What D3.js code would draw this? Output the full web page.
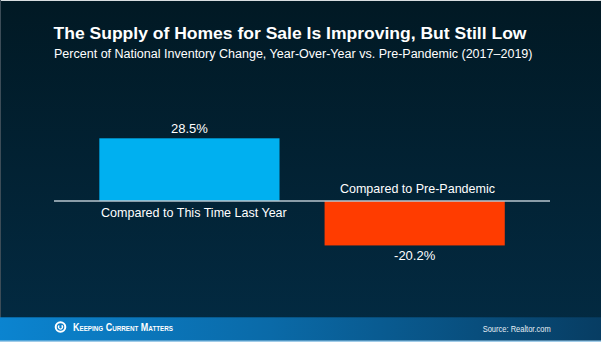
<!DOCTYPE html>
<html><head><meta charset="utf-8">
<script src="https://cdn.jsdelivr.net/npm/d3@7"></script>
<style>html,body{margin:0;padding:0;background:#021a27;}svg{display:block;}</style>
</head><body>
<script>
const categories = ["Compared to This Time Last Year", "Compared to Pre-Pandemic"];
const values = [28.5, -20.2];
const valueLabels = ["28.5%", "-20.2%"];
const barColors = ["#00b0f0", "#ff3c00"];
const title = "The Supply of Homes for Sale Is Improving, But Still Low";
const subtitle = "Percent of National Inventory Change, Year-Over-Year vs. Pre-Pandemic (2017\u20132019)";
const source = "Source: Realtor.com";
const brand = "Keeping Current Matters";

const W = 601, H = 342;
const svg = d3.select("body").append("svg").attr("width", W).attr("height", H);
const defs = svg.append("defs");
const bg = defs.append("linearGradient").attr("id","bg").attr("x1",0).attr("y1",0).attr("x2",0).attr("y2",1);
bg.append("stop").attr("offset","0%").attr("stop-color","#011924");
bg.append("stop").attr("offset","100%").attr("stop-color","#032b43");
const ft = defs.append("linearGradient").attr("id","ft").attr("x1",0).attr("y1",0).attr("x2",1).attr("y2",0);
ft.append("stop").attr("offset","0%").attr("stop-color","#0b84d0");
ft.append("stop").attr("offset","45%").attr("stop-color","#0a6aa8");
ft.append("stop").attr("offset","100%").attr("stop-color","#073d63");

svg.append("rect").attr("width",W).attr("height",H).attr("fill","url(#bg)");
// light borders
svg.append("rect").attr("x",0).attr("y",0).attr("width",W).attr("height",1).attr("fill","#d8dde0");
svg.append("rect").attr("x",0).attr("y",0).attr("width",1).attr("height",H).attr("fill","#3c4c57");
// footer
svg.append("rect").attr("x",0).attr("y",317.3).attr("width",W).attr("height",H-317.3).attr("fill","url(#ft)");
svg.append("rect").attr("x",0).attr("y",340.5).attr("width",W).attr("height",1.5).attr("fill","#9fcbe8");

const font = "'Liberation Sans', Arial, sans-serif";
svg.append("text").attr("x",53.5).attr("y",39.2).attr("fill","#fff")
  .attr("font-family",font).attr("font-weight","bold").attr("font-size",16.3)
  .attr("textLength",473).attr("lengthAdjust","spacingAndGlyphs").text(title);
svg.append("text").attr("x",54).attr("y",58.4).attr("fill","#fff")
  .attr("font-family",font).attr("font-size",12.3)
  .attr("textLength",478.5).attr("lengthAdjust","spacingAndGlyphs").text(subtitle);

const x = d3.scaleBand().domain(categories).range([76.8, 527.3]).paddingInner(0.2).paddingOuter(0.1);
const y = d3.scaleLinear().domain([-40, 40]).range([289, 113]);

const g = svg.append("g");
g.selectAll("rect.bar").data(values).join("rect").attr("class","bar")
  .attr("x",(d,i)=>x(categories[i]))
  .attr("width",x.bandwidth())
  .attr("y",d=>y(Math.max(0,d)))
  .attr("height",d=>Math.abs(y(d)-y(0)))
  .attr("fill",(d,i)=>barColors[i]);

// baseline axis
const axis = d3.axisBottom(x).tickSize(0).tickFormat("");
const ax = svg.append("g").attr("transform",`translate(0,${y(0)})`).call(axis);
ax.select(".domain").remove();
ax.append("line").attr("x1",54).attr("x2",550).attr("y1",0).attr("y2",0)
  .attr("stroke","#b9c6cf").attr("stroke-width",1.3);

// value labels
g.selectAll("text.val").data(values).join("text").attr("class","val")
  .attr("x",(d,i)=>x(categories[i])+x.bandwidth()/2)
  .attr("y",d=> d>=0 ? y(d)-5.6 : y(d)+14.7)
  .attr("text-anchor","middle").attr("fill","#fff")
  .attr("font-family",font).attr("font-size",13)
  .text((d,i)=>valueLabels[i]);

// category labels
const catW = [185.7, 155];
const catDx = [4.5, 2.8];
g.selectAll("text.cat").data(values).join("text").attr("class","cat")
  .attr("x",(d,i)=>x(categories[i])+x.bandwidth()/2+catDx[i])
  .attr("y",d=> d>=0 ? y(0)+15.7 : y(0)-7.7)
  .attr("text-anchor","middle").attr("fill","#fff")
  .attr("font-family",font).attr("font-size",13)
  .attr("textLength",(d,i)=>catW[i]).attr("lengthAdjust","spacingAndGlyphs")
  .text((d,i)=>categories[i]);

// logo
const lg = svg.append("g").attr("transform","translate(60.5,327)");
lg.append("circle").attr("r",4.8).attr("fill","none").attr("stroke","#fff").attr("stroke-width",2);
lg.append("path").attr("d",d3.arc()({innerRadius:1.3,outerRadius:2.6,startAngle:0.6,endAngle:5.6})).attr("fill","#fff");
svg.append("text").attr("x",73).attr("y",330.6).attr("fill","#fff")
  .attr("font-family",font).attr("font-weight","bold").attr("font-size",10)
  .attr("font-variant","small-caps")
  .attr("textLength",100).attr("lengthAdjust","spacingAndGlyphs").text(brand);
svg.append("text").attr("x",482.7).attr("y",332.3).attr("fill","#e6eef4")
  .attr("font-family",font).attr("font-size",8.6)
  .attr("textLength",68).attr("lengthAdjust","spacingAndGlyphs").text(source);
</script>
</body></html>
